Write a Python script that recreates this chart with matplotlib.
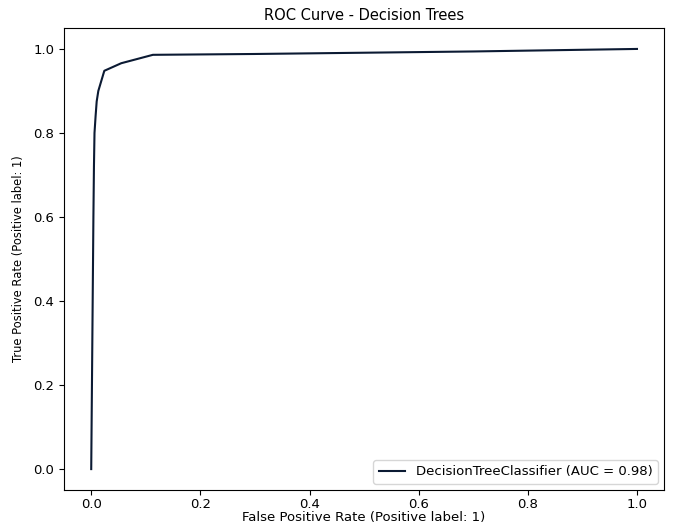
import matplotlib
matplotlib.use("Agg")
import matplotlib.pyplot as plt

# ROC points
fpr = [0.0, 0.001, 0.002, 0.003, 0.004, 0.005, 0.006, 0.008, 0.010, 0.013,
       0.024, 0.055, 0.113, 0.3, 0.5, 0.7, 0.85, 1.0]
tpr = [0.0, 0.15, 0.30, 0.45, 0.60, 0.72, 0.80, 0.84, 0.875, 0.90,
       0.948, 0.966, 0.986, 0.988, 0.991, 0.994, 0.997, 1.0]
auc = 0.98

fig, ax = plt.subplots(figsize=(6.73, 5.27), dpi=100)
fig.subplots_adjust(left=0.095, right=0.987, bottom=0.07, top=0.947)

ax.plot(fpr, tpr, color='#0b1a33', lw=1.5,
        label='DecisionTreeClassifier (AUC = %.2f)' % auc)
ax.set_xlabel('False Positive Rate (Positive label: 1)', fontsize=9.5, labelpad=0)
ax.set_ylabel('True Positive Rate (Positive label: 1)', fontsize=8.3, labelpad=6)
ax.set_title('ROC Curve - Decision Trees', fontsize=10.5, pad=6)
ax.tick_params(labelsize=9.5)
ax.tick_params(axis='x', pad=2.5)
ax.legend(loc='lower right', fontsize=9.5)

fig.savefig('out.png')
